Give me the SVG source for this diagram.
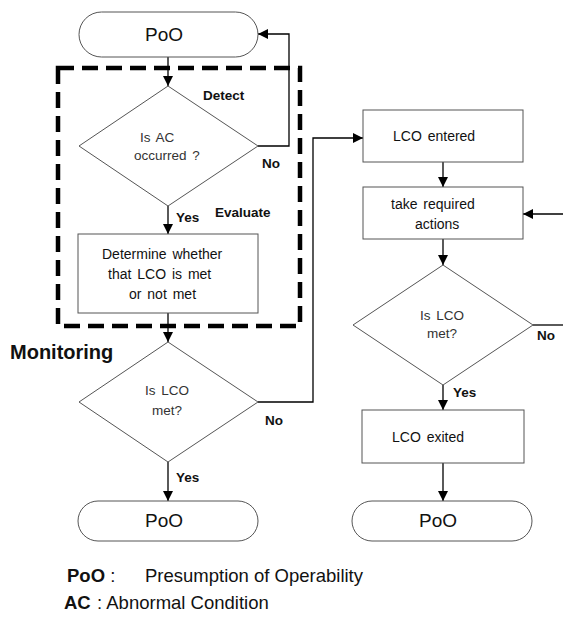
<svg xmlns="http://www.w3.org/2000/svg" width="563" height="618" viewBox="0 0 563 618">
  <defs>
    <marker id="arrow" viewBox="0 0 10 10" refX="10" refY="5" markerWidth="10" markerHeight="10" markerUnits="userSpaceOnUse" orient="auto">
      <path d="M0,0 L10,5 L0,10 z" fill="#000"/>
    </marker>
    <style>
      .shape { fill: #fff; stroke: #555; stroke-width: 1; }
      .conn { fill: none; stroke: #000; stroke-width: 1.3; marker-end: url(#arrow); }
      .line { fill: none; stroke: #000; stroke-width: 1.3; }
      .frame { fill: none; stroke: #000; stroke-width: 4.5; stroke-dasharray: 16 8; }
      text { font-family: "Liberation Sans", Arial, sans-serif; fill: #111; }
      .pill { font-size: 19px; text-anchor: middle; }
      .body { font-size: 14px; word-spacing: 2px; }
      .q { font-size: 13.5px; fill: #333; word-spacing: 2px; }
      .lbl { font-size: 13.5px; font-weight: bold; }
      .big { font-size: 20px; font-weight: bold; }
      .key { font-size: 18.5px; }
    </style>
  </defs>
  <rect width="563" height="618" fill="#fff"/>

  <!-- monitoring frame -->
  <g id="monitoring">
    <rect class="frame" x="58" y="68" width="242" height="258"/>
    <text class="big" x="10" y="359">Monitoring</text>
  </g>

  <!-- connectors -->
  <g id="connectors">
    <path class="conn" d="M168,57 V86"/>
    <path class="conn" d="M258,146 H289 V34 H258"/>
    <path class="conn" d="M168,206 V234"/>
    <path class="conn" d="M168,313 V342"/>
    <path class="conn" d="M168,462 V501"/>
    <path class="conn" d="M258,402 H313 V138 H363"/>
    <path class="conn" d="M443,162 V187"/>
    <path class="conn" d="M443,239 V265"/>
    <path class="conn" d="M563,214 H523"/>
    <path class="line" d="M533,325 H563"/>
    <path class="conn" d="M443,385 V410"/>
    <path class="conn" d="M443,463 V501"/>
    <text class="lbl" x="203" y="100">Detect</text>
    <text class="lbl" x="262" y="168">No</text>
    <text class="lbl" x="176" y="222">Yes</text>
    <text class="lbl" x="215" y="217">Evaluate</text>
    <text class="lbl" x="265" y="425">No</text>
    <text class="lbl" x="176" y="482">Yes</text>
    <text class="lbl" x="537" y="340">No</text>
    <text class="lbl" x="453" y="397">Yes</text>
  </g>

  <!-- left column -->
  <g id="poo-start">
    <rect class="shape" x="79" y="12" width="179" height="45" rx="22.5"/>
    <text class="pill" x="164" y="41">PoO</text>
  </g>
  <g id="is-ac">
    <polygon class="shape" points="168,86 258,146 168,206 79,146"/>
    <text class="q" x="140" y="142">Is AC</text>
    <text class="q" x="134" y="160">occurred ?</text>
  </g>
  <g id="determine">
    <rect class="shape" x="78" y="234" width="180" height="79"/>
    <text class="body" x="102" y="259">Determine whether</text>
    <text class="body" x="108" y="279">that LCO is met</text>
    <text class="body" x="129" y="299">or not met</text>
  </g>
  <g id="is-lco-1">
    <polygon class="shape" points="168,342 258,402 168,462 79,402"/>
    <text class="q" x="167" y="395" text-anchor="middle">Is LCO</text>
    <text class="q" x="167" y="415" text-anchor="middle">met?</text>
  </g>
  <g id="poo-left">
    <rect class="shape" x="78" y="501" width="180" height="40" rx="20"/>
    <text class="pill" x="164" y="527">PoO</text>
  </g>

  <!-- right column -->
  <g id="lco-entered">
    <rect class="shape" x="363" y="110" width="160" height="52"/>
    <text class="body" x="393" y="141">LCO entered</text>
  </g>
  <g id="take-actions">
    <rect class="shape" x="363" y="187" width="160" height="52"/>
    <text class="body" x="391" y="209">take required</text>
    <text class="body" x="415" y="229">actions</text>
  </g>
  <g id="is-lco-2">
    <polygon class="shape" points="443,265 533,325 443,385 353,325"/>
    <text class="q" x="442" y="320" text-anchor="middle">Is LCO</text>
    <text class="q" x="442" y="338" text-anchor="middle">met?</text>
  </g>
  <g id="lco-exited">
    <rect class="shape" x="362" y="410" width="162" height="53"/>
    <text class="body" x="392" y="442">LCO exited</text>
  </g>
  <g id="poo-right">
    <rect class="shape" x="352" y="501" width="180" height="40" rx="20"/>
    <text class="pill" x="438" y="527">PoO</text>
  </g>

  <!-- key -->
  <g id="key">
    <text class="key" x="67" y="582"><tspan font-weight="bold">PoO</tspan> :</text>
    <text class="key" x="145" y="582">Presumption of Operability</text>
    <text class="key" x="64" y="609" font-weight="bold">AC</text>
    <text class="key" x="97" y="609">: Abnormal Condition</text>
  </g>
</svg>
